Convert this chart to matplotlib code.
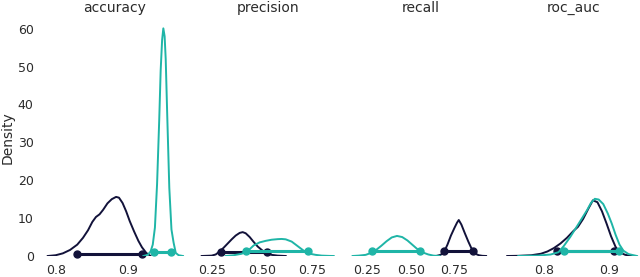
import numpy as np
import matplotlib
matplotlib.use("Agg")
import matplotlib.pyplot as plt

# density curves (x value, density)
metrics = ["accuracy", "precision", "recall", "roc_auc"]

acc_x_a = [0.789, 0.800, 0.810, 0.820, 0.830, 0.838, 0.845, 0.851, 0.856, 0.861, 0.866, 0.872,
           0.878, 0.884, 0.888, 0.893, 0.898, 0.903, 0.909, 0.915, 0.920, 0.926, 0.932]
acc_y_a = [0, 0.2, 0.7, 1.6, 3.0, 4.8, 6.8, 9.0, 10.3, 11.0, 12.2, 13.9,
           15.0, 15.6, 15.4, 14.0, 11.8, 9.2, 6.5, 4.0, 2.3, 0.8, 0]
acc_x_b = [0.922, 0.928, 0.932, 0.935, 0.938, 0.941, 0.944, 0.946, 0.948, 0.9497, 0.9515,
           0.953, 0.955, 0.958, 0.961, 0.964, 0.967, 0.971, 0.977]
acc_y_b = [0, 0.3, 1.2, 3.0, 7.5, 19, 36, 49, 57, 60.1, 58, 52, 38, 18, 7, 3.5, 0.8, 0.2, 0]

prec_x_a = [0.20, 0.25, 0.27, 0.29, 0.31, 0.33, 0.35, 0.37, 0.39, 0.405, 0.42, 0.44, 0.46,
            0.48, 0.50, 0.52, 0.55, 0.58, 0.62]
prec_y_a = [0, 0.1, 0.4, 1.2, 2.2, 3.3, 4.4, 5.4, 6.1, 6.3, 6.0, 5.0, 3.7, 2.5, 1.6, 0.8,
            0.3, 0.1, 0]
prec_x_b = [0.32, 0.36, 0.40, 0.43, 0.46, 0.49, 0.52, 0.55, 0.58, 0.60, 0.62, 0.65, 0.68,
            0.71, 0.74, 0.77, 0.80, 0.84, 0.86]
prec_y_b = [0, 0.2, 0.6, 1.3, 2.8, 3.6, 4.0, 4.3, 4.45, 4.5, 4.4, 3.8, 2.6, 1.4, 0.6, 0.3,
            0.1, 0.02, 0]

rec_x_a = [0.645, 0.67, 0.69, 0.71, 0.73, 0.75, 0.765, 0.775, 0.79, 0.81, 0.83, 0.85, 0.87,
           0.89, 0.91, 0.932]
rec_y_a = [0, 0.3, 1.0, 3.0, 5.4, 7.4, 8.8, 9.5, 8.3, 6.0, 3.8, 1.8, 0.6, 0.2, 0.05, 0]
rec_x_b = [0.165, 0.20, 0.24, 0.27, 0.30, 0.33, 0.36, 0.39, 0.42, 0.45, 0.48, 0.51, 0.54,
           0.57, 0.60, 0.63, 0.665]
rec_y_b = [0, 0.1, 0.3, 0.8, 1.6, 2.7, 3.9, 4.9, 5.3, 5.0, 4.1, 2.9, 1.7, 0.9, 0.4, 0.1, 0]

roc_x_a = [0.743, 0.76, 0.78, 0.795, 0.805, 0.815, 0.825, 0.835, 0.845, 0.852, 0.86, 0.868,
           0.875, 0.882, 0.889, 0.896, 0.903, 0.91, 0.917, 0.925, 0.935]
roc_y_a = [0, 0.05, 0.2, 0.6, 1.2, 2.1, 3.3, 4.8, 6.6, 7.7, 9.8, 12.5, 14.7, 14.2, 11.8, 8.6,
           5.2, 2.4, 0.9, 0.3, 0]
roc_x_b = [0.76, 0.79, 0.81, 0.822, 0.83, 0.84, 0.85, 0.858, 0.866, 0.872, 0.878, 0.884,
           0.891, 0.898, 0.904, 0.91, 0.916, 0.922, 0.93, 0.943]
roc_y_b = [0, 0.1, 0.4, 1.0, 2.6, 5.0, 7.7, 9.9, 12.1, 14.0, 15.1, 14.9, 13.7, 11.2, 8.6,
           5.6, 3.0, 1.4, 0.5, 0]

# hdi intervals (low, high) and the height the interval bar sits at
hdi_a = [(0.830, 0.920), (0.294, 0.527), (0.690, 0.859), (0.8195, 0.908)]
hdi_b = [(0.937, 0.961), (0.423, 0.731), (0.279, 0.552), (0.830, 0.916)]
hdi_h_a = [0.4, 1.0, 1.3, 1.3]
hdi_h_b = [1.1, 1.3, 1.3, 1.3]

curves_a = [(acc_x_a, acc_y_a), (prec_x_a, prec_y_a), (rec_x_a, rec_y_a), (roc_x_a, roc_y_a)]
curves_b = [(acc_x_b, acc_y_b), (prec_x_b, prec_y_b), (rec_x_b, rec_y_b), (roc_x_b, roc_y_b)]

xticks = [[0.8, 0.9], [0.25, 0.5, 0.75], [0.25, 0.5, 0.75], [0.8, 0.9]]
xlims = [(0.781, 0.984), (0.165, 0.895), (0.135, 0.974), (0.732, 0.957)]
yticks = [0, 10, 20, 30, 40, 50, 60]

dark = "#12123a"
teal = "#1fb5a7"
txt = "#2b2b2b"

W, H = 640, 277
fig = plt.figure(figsize=(W / 100, H / 100), dpi=100)

axes = []
for i in range(4):
    left = 42 + i * 152.7
    ax = fig.add_axes([left / W, (H - 256) / H, 146 / W, (256 - 20) / H])
    axes.append(ax)

for i, ax in enumerate(axes):
    for (x, y), (lo, hi), h, c in [(curves_a[i], hdi_a[i], hdi_h_a[i], dark),
                                   (curves_b[i], hdi_b[i], hdi_h_b[i], teal)]:
        ax.plot(x, y, color=c, lw=1.4)
        ax.plot([lo, hi], [h, h], color=c, lw=2.2, solid_capstyle="butt", clip_on=False)
        ax.plot([lo, hi], [h, h], "o", color=c, ms=5, clip_on=False)
    ax.set_xlim(*xlims[i])
    ax.set_ylim(0, 62.3)
    ax.set_xticks(xticks[i])
    ax.set_xticklabels([f"{v:.1f}" if i in (0, 3) else f"{v:.2f}" for v in xticks[i]])
    for s in ax.spines.values():
        s.set_visible(False)
    ax.tick_params(length=0, pad=6, labelsize=9, colors=txt)
    ax.set_title(metrics[i], fontsize=10, color=txt, pad=6)
    if i == 0:
        ax.set_yticks(yticks)
        ax.set_ylabel("Density", fontsize=10, color=txt, labelpad=2)
    else:
        ax.set_yticks([])

fig.savefig("out.png", dpi=100)
